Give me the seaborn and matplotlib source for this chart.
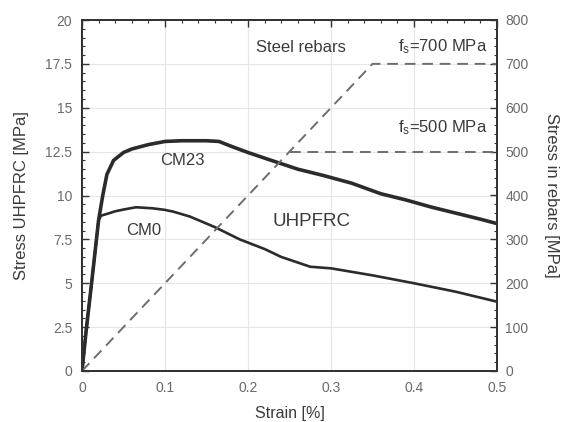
import numpy as np
import pandas as pd
import matplotlib
matplotlib.use("Agg")
import matplotlib.pyplot as plt
from matplotlib.ticker import AutoMinorLocator
import seaborn as sns

# ---- data ----
cm23_strain = [0, 0.005, 0.012, 0.02, 0.025, 0.03, 0.038, 0.05, 0.06, 0.08, 0.1, 0.12,
               0.15, 0.165, 0.18, 0.2, 0.225, 0.26, 0.29, 0.325, 0.36, 0.39, 0.42, 0.45, 0.48, 0.5]
cm23_stress = [0, 2.3, 5.2, 8.6, 10.0, 11.2, 12.0, 12.45, 12.65, 12.9, 13.08, 13.12,
               13.12, 13.08, 12.8, 12.45, 12.05, 11.5, 11.15, 10.7, 10.1, 9.75, 9.35, 9.0, 8.65, 8.4]

cm0_strain = [0, 0.005, 0.012, 0.02, 0.023, 0.03, 0.04, 0.05, 0.065, 0.085, 0.1, 0.11,
              0.13, 0.145, 0.16, 0.19, 0.22, 0.24, 0.275, 0.3, 0.35, 0.4, 0.45, 0.5]
cm0_stress = [0, 2.3, 5.2, 8.6, 8.85, 8.95, 9.1, 9.2, 9.33, 9.27, 9.18, 9.08,
              8.8, 8.5, 8.2, 7.5, 6.95, 6.5, 5.94, 5.85, 5.45, 5.0, 4.52, 3.95]

rebar_strain = [0, 0.35, 0.5]
rebar_stress = [0, 700, 700]
rebar500_strain = [0.25, 0.5]
rebar500_stress = [500, 500]

x_ticks = [0, 0.1, 0.2, 0.3, 0.4, 0.5]
x_ticklabels = ["0", "0.1", "0.2", "0.3", "0.4", "0.5"]
yl_ticks = [0, 2.5, 5, 7.5, 10, 12.5, 15, 17.5, 20]
yl_ticklabels = ["0", "2.5", "5", "7.5", "10", "12.5", "15", "17.5", "20"]
yr_ticks = [0, 100, 200, 300, 400, 500, 600, 700, 800]

# ---- style ----
sns.set_theme(style="white")
plt.rcParams["font.family"] = ["Liberation Sans", "DejaVu Sans"]
plt.rcParams["mathtext.fontset"] = "custom"
plt.rcParams["mathtext.rm"] = "Liberation Sans"
plt.rcParams["mathtext.it"] = "Liberation Sans"

fig = plt.figure(figsize=(5.66, 4.22), dpi=100)
ax = fig.add_axes([82 / 566, 51 / 422, 415 / 566, 351 / 422])
ax2 = ax.twinx()

curve_col = "#2b2b2b"
dash_col = "#6e6e6e"
tick_col = "#6a6a6a"
lab_col = "#3a3a3a"

df23 = pd.DataFrame({"strain": cm23_strain, "stress": cm23_stress})
df0 = pd.DataFrame({"strain": cm0_strain, "stress": cm0_stress})
dfr = pd.DataFrame({"strain": rebar_strain, "stress": rebar_stress})
dfr5 = pd.DataFrame({"strain": rebar500_strain, "stress": rebar500_stress})

sns.lineplot(data=df23, x="strain", y="stress", ax=ax, color=curve_col, lw=2.6,
             sort=False, estimator=None, zorder=3)
sns.lineplot(data=df0, x="strain", y="stress", ax=ax, color=curve_col, lw=1.9,
             sort=False, estimator=None, zorder=3)
sns.lineplot(data=dfr, x="strain", y="stress", ax=ax2, color=dash_col, lw=1.4,
             sort=False, estimator=None, linestyle=(0, (5.5, 3.5)))
sns.lineplot(data=dfr5, x="strain", y="stress", ax=ax2, color=dash_col, lw=1.4,
             sort=False, estimator=None, linestyle=(0, (5.5, 3.5)))

ax.set_xlim(0, 0.5)
ax.set_ylim(0, 20)
ax2.set_ylim(0, 800)

ax.set_xticks(x_ticks)
ax.set_xticklabels(x_ticklabels)
ax.set_yticks(yl_ticks)
ax.set_yticklabels(yl_ticklabels)
ax2.set_yticks(yr_ticks)
ax.xaxis.set_minor_locator(AutoMinorLocator(5))
ax.yaxis.set_minor_locator(AutoMinorLocator(5))
ax2.yaxis.set_minor_locator(AutoMinorLocator(5))

ax.grid(True, which="major", color="#e6e6e6", lw=0.8)
ax.set_axisbelow(True)

for a in (ax, ax2):
    for s in a.spines.values():
        s.set_visible(True)
        s.set_color("#333333")
        s.set_linewidth(1.4)
ax.tick_params(axis="both", which="major", direction="in", length=5, width=1.0,
               color="#333333", labelsize=10, labelcolor=tick_col, pad=7, top=True)
ax.tick_params(axis="both", which="minor", direction="in", length=2.5, width=0.8,
               color="#333333", top=True)
ax.tick_params(axis="y", right=False)
ax2.tick_params(axis="y", which="major", direction="in", length=5, width=1.0,
                color="#333333", labelsize=10, labelcolor=tick_col, pad=6)
ax2.tick_params(axis="y", which="minor", direction="in", length=2.5, width=0.8,
                color="#333333")

ax.set_xlabel("Strain [%]", fontsize=11.5, color=lab_col, labelpad=8)
ax.set_ylabel("Stress UHPFRC [MPa]", fontsize=12, color=lab_col, labelpad=12)
ax2.set_ylabel("Stress in rebars [MPa]", fontsize=12, color=lab_col, rotation=-90,
               labelpad=22)

txt = dict(color="#3a3a3a", fontsize=12)
ax.text(0.121, 11.97, "CM23", ha="center", va="center", **txt)
ax.text(0.074, 7.98, "CM0", ha="center", va="center", **txt)
ax.text(0.277, 8.5, "UHPFRC", ha="center", va="center", color="#3a3a3a", fontsize=13.5)
ax.text(0.264, 18.46, "Steel rebars", ha="center", va="center", **txt)
ax.text(0.488, 18.46, r"f$_\mathregular{s}$=700 MPa", ha="right", va="center", **txt)
ax.text(0.488, 13.85, r"f$_\mathregular{s}$=500 MPa", ha="right", va="center", **txt)

fig.savefig("out.png", dpi=100)
